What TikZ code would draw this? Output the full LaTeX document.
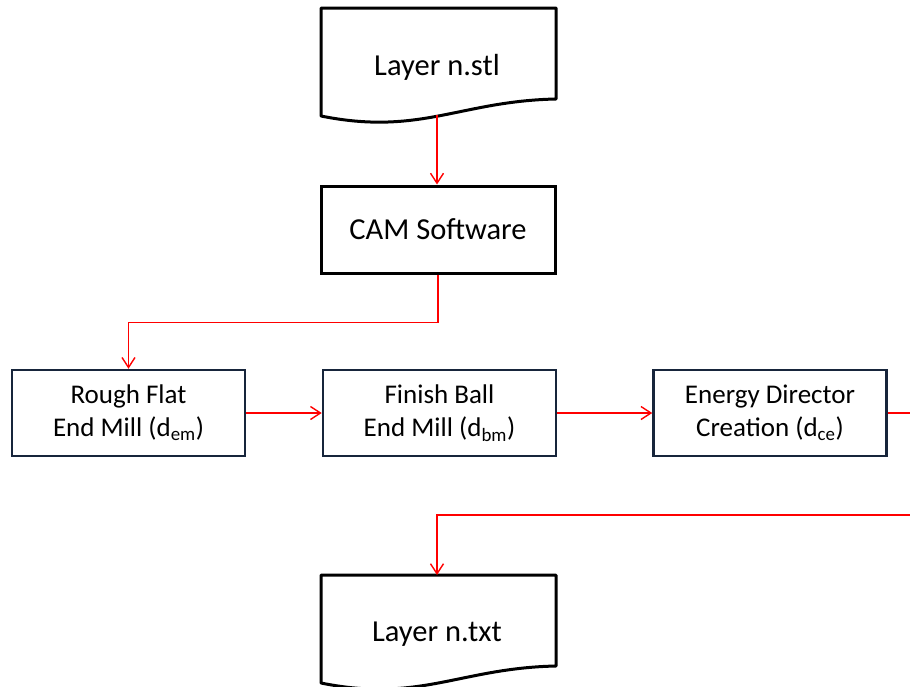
\documentclass[tikz,border=0pt]{standalone}
\usepackage{fontspec}
\setmainfont{Carlito}
\usetikzlibrary{arrows.meta}
\definecolor{navy}{HTML}{17253B}
\begin{document}
\begin{tikzpicture}[x=1pt,y=-1pt,
    docline/.style={line width=3pt,line join=round},
    doctext/.style={font=\fontsize{30.5}{36}\selectfont},
    cambox/.style={draw,line width=3pt,minimum width=234pt,minimum height=87pt,font=\fontsize{30.5}{36}\selectfont},
    procbox/.style={draw=navy,line width=2.5pt,minimum width=233pt,minimum height=86pt,align=center,font=\fontsize{27}{33}\selectfont},
    redline/.style={red,line width=1.4pt},
    redarrow/.style={redline,-{Straight Barb[length=10pt,width=13pt]}}]
    \useasboundingbox (0,0) rectangle (910,686);
    \clip (0,0) rectangle (910,686);
    \foreach \dy in {0,567}
    {
        \draw[docline] (321,116+\dy) -- (321,8+\dy) -- (556,8+\dy) -- (556,99+\dy)
            .. controls (460,101+\dy) and (420,136+\dy) .. (321,116+\dy) -- cycle;
    }
    \node[doctext] (stl) at (437,67) {Layer n.stl};
    \node[doctext] (txt) at (437,634) {Layer n.txt};
    \coordinate (stlbottom) at (437,115);
    \coordinate (txttop) at (437,575);
    \node[cambox] (cam) at (438,229.5) {CAM Software};
    \node[procbox] (rough) at (128.5,413) {Rough Flat\\End Mill (d\textsubscript{em})};
    \node[procbox] (finish) at (439.5,413) {Finish Ball\\End Mill (d\textsubscript{bm})};
    \node[procbox] (energy) at (770,413) {Energy Director\\Creation (d\textsubscript{ce})};
    \draw[redarrow] (stlbottom) -- (stlbottom |- cam.north);
    \draw[redarrow] (cam.south) -- ++(0,48) -| (rough.north);
    \draw[redarrow] (rough) -- (finish);
    \draw[redarrow] (finish) -- (energy);
    \draw[redarrow] (energy.east) -- ++(40,0) -- ++(0,102) -| (txttop);
\end{tikzpicture}
\end{document}
